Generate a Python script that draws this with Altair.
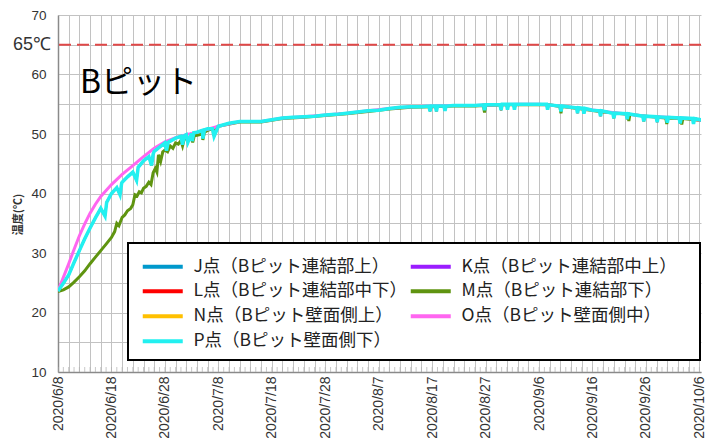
import altair as alt
import pandas as pd

# ---------------- data ----------------
series_names = [
    "J点（Bピット連結部上）", "K点（Bピット連結部中上）",
    "L点（Bピット連結部中下）", "M点（Bピット連結部下）",
    "N点（Bピット壁面側上）", "O点（Bピット壁面側中）",
    "P点（Bピット壁面側下）",
]
series_colors = ["#0099cc", "#9b1dff", "#ff0000", "#5f9410", "#ffc000", "#ff66f0", "#22f0f0"]

# days since 2020/6/8
p_day = [0, 1, 2, 3, 4, 5, 6, 7, 8, 8.8, 9.1, 10, 11, 11.6, 11.9, 12, 13, 14, 14.7, 15, 16, 17, 17.5, 17.8,
         18, 19, 20, 20.3, 20.6, 21, 22, 23, 23.3, 23.6, 24, 24.3, 25, 25.1, 25.4, 26, 27, 27.1, 27.4, 28,
         28.9, 29.2, 30, 32, 34, 36, 38, 40, 42, 44, 46, 48, 50, 52, 54, 56, 58, 60, 62, 64, 66, 68,
         69.4, 69.6, 69.8, 70.6, 70.8, 71, 72.2, 72.4, 72.6, 74, 76, 78, 79.6, 79.8, 80, 82, 82.7, 82.9,
         83.1, 83.9, 84.1, 84.3, 85.2, 85.4, 85.6, 88, 90, 91.4, 91.6, 91.8, 93.9, 94.1, 94.3, 96, 97,
         97.2, 97.4, 98.2, 98.4, 98.6, 100, 101.3, 101.5, 101.7, 103.8, 104, 104.2, 106.3, 106.5, 106.7,
         108, 109.4, 109.6, 109.8, 111.9, 112.1, 112.3, 113.8, 114, 114.2, 116.2, 116.4, 116.6, 118.7,
         118.9, 119.1, 121.2, 121.4, 121.6, 122]
p_temp = [23.6, 24.9, 26.3, 28.4, 30.4, 32.4, 34.2, 35.9, 37.5, 36.2, 38.5, 40.0, 41.0, 39.8, 41.7, 41.9,
          42.8, 43.6, 42.2, 44.4, 45.5, 46.2, 44.7, 46.6, 47.1, 47.8, 48.5, 47.2, 48.6, 48.8, 49.3, 49.6,
          48.2, 49.7, 49.9, 48.6, 50.1, 48.8, 50.2, 50.3, 50.6, 49.2, 50.7, 50.9, 50.9, 49.6, 51.3, 51.8,
          52.1, 52.1, 52.1, 52.4, 52.7, 52.8, 52.9, 53.0, 53.2, 53.3, 53.5, 53.7, 53.9, 54.0, 54.3, 54.5,
          54.6, 54.6, 54.7, 53.8, 54.7, 54.7, 53.8, 54.7, 54.7, 53.9, 54.7, 54.8, 54.8, 54.8, 54.9, 54.0,
          54.9, 54.9, 54.9, 54.0, 55.0, 55.0, 54.1, 55.0, 55.0, 54.1, 55.0, 55.0, 55.0, 55.0, 54.1, 54.9,
          54.7, 53.8, 54.7, 54.5, 54.4, 53.5, 54.4, 54.3, 53.4, 54.3, 54.0, 53.9, 53.0, 53.9, 53.5, 52.6,
          53.5, 53.4, 52.5, 53.4, 53.2, 53.0, 52.1, 53.0, 52.9, 52.0, 52.9, 52.8, 51.9, 52.8, 52.7, 51.8,
          52.7, 52.6, 51.7, 52.6, 52.2, 51.3, 52.2, 52.1]

m_day = [0, 1, 2, 3, 4, 5, 6, 7, 8, 9, 10, 10.6, 11, 11.4, 12, 12.5, 13, 13.6, 14, 14.4, 14.8, 15.2, 15.6,
         16, 16.5, 17, 17.4, 17.8, 18.2, 18.5, 18.8, 19.2, 19.6, 20, 20.5, 21, 21.5, 22, 22.5, 23, 23.3,
         23.6, 24, 25, 25.2, 25.5, 26, 27, 27.1, 27.4, 28, 29, 29.1, 29.4, 30, 34, 38, 42, 46, 50, 54, 58,
         62, 66, 70, 74, 78, 79.6, 79.8, 80, 84, 88, 92, 93.9, 94.1, 94.3, 98, 102, 106.6, 106.8, 107,
         110, 113.7, 113.9, 114.1, 116.5, 116.7, 116.9, 121.2, 121.4, 121.6, 122]
m_temp = [23.5, 23.8, 24.3, 25.1, 26.0, 27.0, 28.2, 29.3, 30.4, 31.5, 32.6, 33.6, 35.0, 34.6, 36.0, 36.4,
          37.1, 37.5, 38.1, 39.8, 39.6, 40.3, 40.1, 40.9, 41.2, 41.9, 41.5, 43.5, 44.2, 43.6, 46.5, 45.4,
          47.0, 47.3, 47.0, 48.0, 47.6, 48.5, 48.3, 48.9, 48.0, 49.1, 49.2, 49.4, 48.6, 49.7, 49.8, 50.0,
          49.0, 50.3, 50.6, 50.9, 49.8, 51.0, 51.3, 52.0, 52.0, 52.6, 52.8, 53.1, 53.4, 53.8, 54.2, 54.5,
          54.6, 54.7, 54.7, 54.8, 53.6, 54.8, 54.9, 54.9, 54.9, 54.6, 53.5, 54.6, 54.2, 53.7, 53.3, 52.2,
          53.3, 53.0, 52.7, 51.7, 52.7, 52.6, 51.6, 52.6, 52.2, 51.2, 52.2, 52.1]

o_day = [0, 1, 2, 3, 4, 5, 6, 7, 8, 9, 10, 12, 14, 16, 18, 20, 22, 24, 26, 28, 30, 34, 38, 42, 46, 50, 54,
         58, 62, 66, 70, 74, 78, 82, 86, 90, 94, 98, 102, 106, 110, 114, 118, 122]
o_temp = [23.6, 25.9, 28.2, 30.6, 32.9, 34.9, 36.7, 38.2, 39.5, 40.5, 41.5, 43.2, 44.7, 46.2, 47.6, 48.7,
          49.4, 49.9, 50.3, 50.8, 51.3, 52.1, 52.1, 52.7, 52.9, 53.2, 53.5, 53.9, 54.3, 54.6, 54.7, 54.8,
          54.8, 54.9, 55.0, 55.0, 54.7, 54.3, 53.8, 53.4, 53.0, 52.8, 52.6, 52.1]

# tick labels (days since 2020/6/8)
label_days = [0, 10, 20, 30, 40, 50, 60, 70, 80, 90, 100, 110, 120]
label_texts = ["2020/6/8", "2020/6/18", "2020/6/28", "2020/7/8", "2020/7/18", "2020/7/28",
               "2020/8/7", "2020/8/17", "2020/8/27", "2020/9/6", "2020/9/16", "2020/9/26", "2020/10/6"]
limit_value = 65
limit_label = "65℃"
panel_title = "Bピット"

# ---------------- build table ----------------
series_data = {
    series_names[0]: (p_day, p_temp),
    series_names[1]: (p_day, p_temp),
    series_names[2]: (p_day, p_temp),
    series_names[4]: (p_day, p_temp),
    series_names[3]: (m_day, m_temp),
    series_names[5]: (o_day, o_temp),
    series_names[6]: (p_day, p_temp),
}
frames = []
for name, (d, t) in series_data.items():
    frames.append(pd.DataFrame({"day": d, "temp": t, "series": name}))
df = pd.concat(frames, ignore_index=True)

# legend fills column by column: J L N P | K M O  -> reads J K / L M / N O / P
legend_idx = [0, 2, 4, 6, 1, 3, 5]
legend_domain = [series_names[i] for i in legend_idx]
legend_range = [series_colors[i] for i in legend_idx]

label_expr = ""
for d, t in zip(label_days, label_texts):
    label_expr += f"datum.value == {d} ? '{t}' : "
label_expr += "''"

W, H = 643, 357
GRID = "#c2c2c2"
AXIS_FONT = "Liberation Sans, Arial, sans-serif"
JP_FONT = "Noto Sans CJK JP"

x_enc = alt.X(
    "day:Q",
    scale=alt.Scale(domain=[0, 120.3], nice=False, zero=False),
    axis=alt.Axis(values=list(range(0, 121, 2)), labelExpr=label_expr, labelAngle=270,
                  grid=True, gridColor=GRID, gridWidth=1, ticks=False, tickSize=0,
                  domainColor="#8a8a8a", domainWidth=1.5, title=None,
                  labelFont=AXIS_FONT, labelFontSize=14, labelColor="#333333",
                  labelPadding=4, labelOverlap=False),
)
y_enc = alt.Y(
    "temp:Q",
    scale=alt.Scale(domain=[10, 70], nice=False, zero=False),
    axis=alt.Axis(values=list(range(10, 71, 5)), labelExpr="datum.value % 10 == 0 ? datum.label : ''",
                  grid=True, gridColor=GRID, gridWidth=1, ticks=False, tickSize=0,
                  domainColor="#8a8a8a", domainWidth=1.5, title="温度(℃)",
                  titleFont=JP_FONT, titleFontSize=11, titleFontWeight="bold", titleColor="#333333",
                  titleX=-40, titleY=199, titleAngle=270, titleAlign="center", titleBaseline="middle",
                  labelFont=AXIS_FONT, labelFontSize=13.5, labelColor="#333333",
                  labelPadding=12, labelOverlap=False),
)
color_enc = alt.Color(
    "series:N",
    scale=alt.Scale(domain=legend_domain, range=legend_range),
    legend=alt.Legend(orient="none", legendX=81, legendY=242.5, columns=2, title=None,
                      symbolType="M-4,0H4", symbolSize=100, symbolStrokeWidth=4, symbolOffset=15,
                      labelOffset=22, labelFont=JP_FONT, labelFontSize=17.5, labelColor="#222222",
                      rowPadding=6, columnPadding=-12, padding=0, labelLimit=400),
)

base = alt.Chart(df).encode(x=x_enc, y=y_enc, color=color_enc)

draw_order = [series_names[i] for i in (0, 1, 2, 4, 3, 5, 6)]
line_layers = []
for name in draw_order:
    if name == series_names[6]:
        sw = 3.5
    elif name in (series_names[3], series_names[5]):
        sw = 3
    else:
        sw = 2
    line_layers.append(
        base.transform_filter(alt.datum.series == name).mark_line(clip=True, strokeWidth=sw)
    )

# daily minor ticks along the bottom edge
minor_ticks = alt.Chart(pd.DataFrame({"day": list(range(0, 122))})).mark_tick(
    orient="vertical", size=10, thickness=1, color="#b0b0b0", clip=True
).encode(x=x_enc, y=alt.value(H))

limit_rule = alt.Chart(pd.DataFrame({"temp": [limit_value]})).mark_rule(
    color="#e04848", strokeWidth=2, strokeDash=[12, 6]
).encode(y=y_enc)

limit_text = alt.Chart(pd.DataFrame({"temp": [limit_value], "t": [limit_label]})).mark_text(
    align="right", baseline="middle", fontSize=18, font=AXIS_FONT, color="#333333", clip=False
).encode(x=alt.value(-7), y=y_enc, text="t:N")

title_text = alt.Chart(pd.DataFrame({"day": [4.1], "temp": [58.6], "t": [panel_title]})).mark_text(
    align="left", baseline="middle", fontSize=32, font=JP_FONT, color="#000000"
).encode(x=x_enc, y=y_enc, text="t:N")

legend_box = alt.Chart(pd.DataFrame({"k": [0]})).mark_rect(
    fill="white", stroke="black", strokeWidth=2
).encode(x=alt.value(70), x2=alt.value(642), y=alt.value(228), y2=alt.value(345))

chart = alt.layer(
    minor_ticks, *line_layers, limit_rule, limit_text, title_text, legend_box
).properties(
    width=W, height=H,
    autosize=alt.AutoSizeParams(type="none"),
    padding={"left": 50, "top": 7, "right": 6, "bottom": 66},
    background="white",
).configure_view(strokeWidth=0)

chart.save("out.html", embed_options={"renderer": "svg", "actions": False})
